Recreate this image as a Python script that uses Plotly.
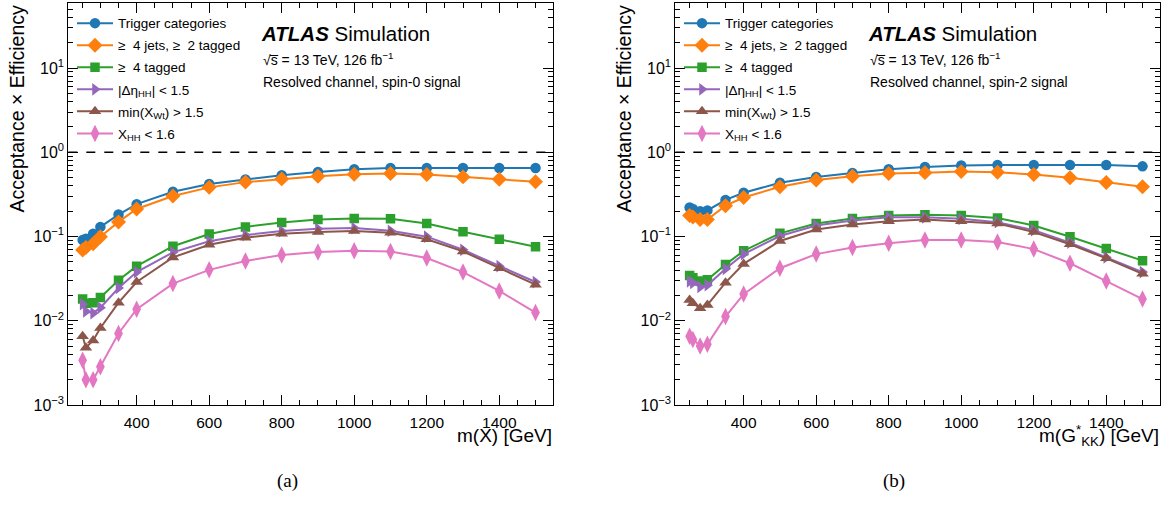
import plotly.graph_objects as go

W, H = 1176, 506

# ---------------- data ----------------
mass = [251, 260, 280, 300, 350, 400, 500, 600, 700, 800, 900, 1000, 1100, 1200, 1300, 1400, 1500]

series_names = [
    "Trigger categories",
    "\u2265  4 jets, \u2265  2 tagged",
    "\u2265  4 tagged",
    "|\u0394\u03b7<sub>HH</sub>| &lt; 1.5",
    "min(X<sub>Wt</sub>) &gt; 1.5",
    "X<sub>HH</sub> &lt; 1.6",
]

# spin-0 (a)
trig_a = [0.091, 0.094, 0.108, 0.130, 0.182, 0.242, 0.34, 0.419, 0.474, 0.533, 0.583, 0.627, 0.65, 0.65, 0.65, 0.65, 0.65]
jets_a = [0.069, 0.074, 0.082, 0.0995, 0.149, 0.212, 0.303, 0.383, 0.442, 0.483, 0.519, 0.548, 0.558, 0.543, 0.51, 0.479, 0.446]
tag4_a = [0.0181, 0.0161, 0.0164, 0.0189, 0.0302, 0.0444, 0.0767, 0.107, 0.130, 0.147, 0.159, 0.164, 0.162, 0.143, 0.114, 0.0927, 0.0754]
deta_a = [0.0157, 0.0129, 0.0123, 0.0143, 0.0245, 0.0378, 0.0648, 0.0879, 0.104, 0.116, 0.1236, 0.126, 0.117, 0.0995, 0.0695, 0.0444, 0.0288]
xwt_a = [0.00656, 0.00479, 0.00583, 0.0082, 0.0164, 0.0288, 0.0565, 0.0796, 0.0968, 0.108, 0.113, 0.116, 0.111, 0.0927, 0.0665, 0.042, 0.0268]
xhh_a = [0.0034, 0.00199, 0.00199, 0.00284, 0.00705, 0.0137, 0.0276, 0.0402, 0.0513, 0.0603, 0.0653, 0.0677, 0.0665, 0.0556, 0.0378, 0.0226, 0.0125]

# spin-2 (b)
trig_b = [0.221, 0.212, 0.199, 0.204, 0.272, 0.331, 0.434, 0.51, 0.568, 0.627, 0.668, 0.698, 0.705, 0.705, 0.705, 0.705, 0.68]
jets_b = [0.178, 0.170, 0.159, 0.159, 0.232, 0.29, 0.39, 0.467, 0.52, 0.558, 0.573, 0.589, 0.579, 0.543, 0.497, 0.438, 0.39]
tag4_b = [0.0345, 0.0324, 0.0296, 0.0307, 0.0464, 0.0677, 0.109, 0.143, 0.164, 0.178, 0.1815, 0.177, 0.166, 0.135, 0.0995, 0.0721, 0.0517]
deta_b = [0.0294, 0.0281, 0.0252, 0.0264, 0.0413, 0.0618, 0.1014, 0.135, 0.1546, 0.169, 0.169, 0.162, 0.148, 0.119, 0.0847, 0.0565, 0.0378]
xwt_b = [0.0176, 0.0161, 0.0141, 0.0154, 0.0283, 0.0473, 0.0886, 0.121, 0.139, 0.152, 0.159, 0.152, 0.143, 0.113, 0.081, 0.055, 0.036]
xhh_b = [0.00656, 0.006, 0.00501, 0.00524, 0.0112, 0.0207, 0.042, 0.0618, 0.074, 0.0832, 0.091, 0.091, 0.0862, 0.0708, 0.0481, 0.0296, 0.0181]

ytick_vals = [1e-3, 1e-2, 1e-1, 1e0, 1e1]
ytick_text = ["10<sup>\u22123</sup>", "10<sup>\u22122</sup>", "10<sup>\u22121</sup>", "10<sup>0</sup>", "10<sup>1</sup>"]
xtick_vals = [400, 600, 800, 1000, 1200, 1400]

# ---------------- style ----------------
colors = ["#1f77b4", "#ff7f0e", "#2ca02c", "#9467bd", "#8c564b", "#e377c2"]
symbols = ["circle", "diamond", "square", "triangle-right", "triangle-up", "diamond-tall"]
sizes = [10.5, 11.5, 9.5, 11, 11, 12.5]
FONT = "Liberation Sans, Arial, Helvetica, sans-serif"

def px_x(p):
    return p / W

def px_y(p):
    return 1 - p / H

fig = go.Figure()

panels = [
    ("x", "y", "legend", [trig_a, jets_a, tag4_a, deta_a, xwt_a, xhh_a]),
    ("x2", "y2", "legend2", [trig_b, jets_b, tag4_b, deta_b, xwt_b, xhh_b]),
]
for xa, ya, lg, data in panels:
    for i, vals in enumerate(data):
        fig.add_trace(go.Scatter(
            x=mass, y=vals, xaxis=xa, yaxis=ya, legend=lg,
            name=series_names[i], legendgroup=f"{lg}_{i}",
            mode="lines+markers",
            line=dict(color=colors[i], width=2),
            marker=dict(symbol=symbols[i], size=sizes[i], color=colors[i]),
        ))

x_dom_a = [px_x(68.3), px_x(553.3)]
x_dom_b = [px_x(675.3), px_x(1160.3)]
y_dom = [px_y(412.3), px_y(2.7)]

def xaxis(domain, anchor):
    return dict(
        domain=domain, anchor=anchor, range=[211.5, 1549],
        tickmode="array", tickvals=xtick_vals,
        ticks="inside", ticklen=10, tickwidth=1, tickcolor="black",
        minor=dict(ticks="inside", ticklen=5, tickwidth=1, tickcolor="black", dtick=50, tick0=0, showgrid=False),
        showline=True, linecolor="black", linewidth=1, mirror="allticks",
        showgrid=False, zeroline=False, ticklabelstandoff=3,
        tickfont=dict(family=FONT, size=15.5, color="black"),
    )

def yaxis(anchor):
    return dict(
        domain=y_dom, anchor=anchor, type="log", range=[-3, 1.776],
        tickmode="array", tickvals=ytick_vals, ticktext=ytick_text,
        ticks="inside", ticklen=10, tickwidth=1, tickcolor="black",
        minor=dict(ticks="inside", ticklen=5, tickwidth=1, tickcolor="black", dtick="D1", showgrid=False),
        showline=True, linecolor="black", linewidth=1, mirror="allticks",
        showgrid=False, zeroline=False,
        tickfont=dict(family=FONT, size=16, color="black"),
    )

legend_common = dict(
    bgcolor="rgba(0,0,0,0)", borderwidth=0,
    font=dict(family=FONT, size=13.5, color="black"),
    xanchor="left", yanchor="top", tracegroupgap=1.5, itemwidth=36,
)

fig.update_layout(
    width=W, height=H, autosize=False,
    margin=dict(l=0, r=0, t=0, b=0),
    paper_bgcolor="white", plot_bgcolor="white",
    font=dict(family=FONT, color="black"),
    xaxis=xaxis(x_dom_a, "y"),
    yaxis=yaxis("x"),
    xaxis2=xaxis(x_dom_b, "y2"),
    yaxis2=yaxis("x2"),
    legend=dict(x=px_x(72), y=px_y(8), **legend_common),
    legend2=dict(x=px_x(679), y=px_y(8), **legend_common),
    showlegend=True,
)

# dashed line at 1
for xr, yr in [("x domain", "y"), ("x2 domain", "y2")]:
    fig.add_shape(type="line", xref=xr, yref=yr, x0=0, x1=1, y0=1, y1=1,
                  line=dict(color="black", width=1.5, dash="dash"))

ann = []
def text(x, y, t, size, xanchor="left", yanchor="middle", family=FONT, angle=0):
    ann.append(dict(x=x, y=y, xref="paper", yref="paper", text=t, showarrow=False,
                    xanchor=xanchor, yanchor=yanchor, textangle=angle,
                    font=dict(family=family, size=size, color="black")))

for off, spin in [(0, "spin-0"), (607, "spin-2")]:
    text(px_x(259 + off), px_y(34.5), "<b><i>ATLAS</i></b> Simulation", 20.5)
    text(px_x(261 + off), px_y(60), "\u221as\u0305 = 13 TeV, 126 fb<sup>\u22121</sup>", 14)
    text(px_x(261 + off), px_y(83), f"Resolved channel, {spin} signal", 14)
    text(px_x(17 + off), px_y(4), "Acceptance \u00d7 Efficiency", 19.5, xanchor="center", yanchor="top", angle=-90)

text(px_x(553.5), px_y(443.5), "m(X) [GeV]", 19, xanchor="right")
text(px_x(1160.5), px_y(443.5), "m(G<sup>*</sup><sub>KK</sub>) [GeV]", 19, xanchor="right")
text(px_x(287), px_y(490), "(a)", 19, xanchor="center", family="Liberation Serif, Times New Roman, serif")
text(px_x(894), px_y(490), "(b)", 19, xanchor="center", family="Liberation Serif, Times New Roman, serif")

fig.update_layout(annotations=ann)

fig.write_html(
    "out.html",
    config={"displayModeBar": False},
    post_script=(
        "document.documentElement.style.margin='0';"
        "document.documentElement.style.overflow='hidden';"
        "document.body.style.margin='0';document.body.style.padding='0';"
        "document.body.style.overflow='hidden';"
        "var gd=document.getElementById('{plot_id}');"
        "gd.style.position='fixed';gd.style.left='0px';gd.style.top='0px';"
    ),
)
